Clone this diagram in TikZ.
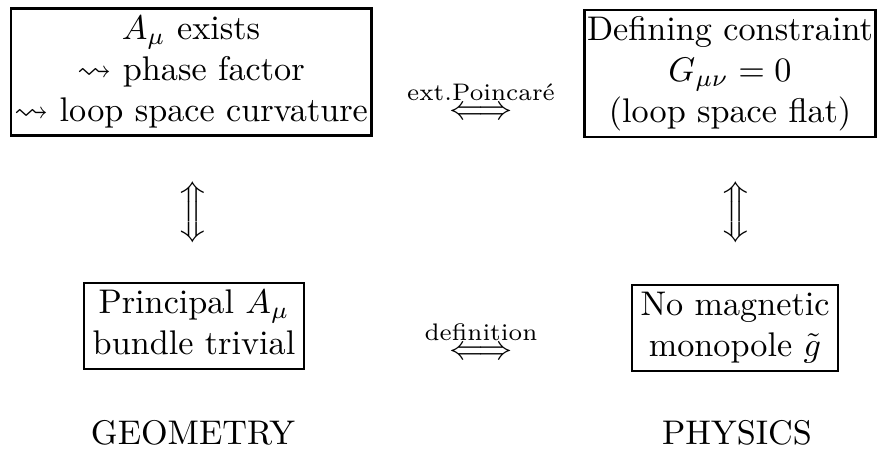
\documentclass[tikz,border=0pt]{standalone}
\usepackage{amsmath,amssymb}
\begin{document}
\begin{tikzpicture}[x={(0.2924pt,0)},y={(0,-0.2924pt)},
  boxnode/.style={draw,line width=0.7pt,inner ysep=0.6pt,align=center},
  glyph/.style={inner sep=0pt,anchor=base}]
\useasboundingbox (0,0) rectangle (877,451);
\node[boxnode,inner xsep=1pt] (tl) at (191,72) {\strut$A_\mu$ exists\\ \strut$\leadsto$ phase factor\\ \strut$\leadsto$ loop space curvature};
\node[boxnode,inner xsep=0.8pt] (tr) at (730,73.5) {\strut Defining constraint\\ \strut$G_{\mu\nu}=0$\\ \strut(loop space flat)};
\node[boxnode,inner xsep=2.5pt] (bl) at (194,326) {\strut Principal $A_\mu$\\ \strut bundle trivial};
\node[boxnode,inner xsep=2.5pt] (br) at (735,328) {\strut No magnetic\\ \strut monopole $\tilde g$};
\node[glyph] (th) at (481,120) {$\stackrel{\text{ext.Poincaré}}{\Longleftrightarrow}$};
\node[glyph] (bh) at (481,360) {$\stackrel{\text{definition}}{\Longleftrightarrow}$};
\node[inner sep=0pt] (lv) at (193,212) {$\Big\Updownarrow$};
\node[inner sep=0pt] (rv) at (736,212) {$\Big\Updownarrow$};
\node[glyph] (geo) at (193,445) {GEOMETRY};
\node[glyph] (phy) at (737,445) {PHYSICS};
\end{tikzpicture}
\end{document}
